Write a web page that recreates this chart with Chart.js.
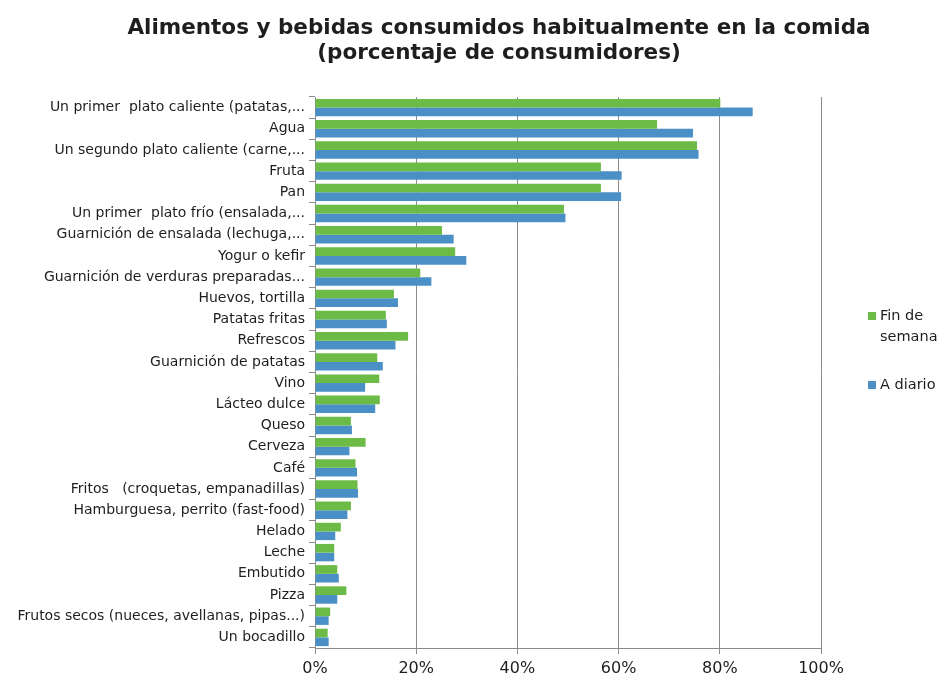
<!DOCTYPE html>
<html>
<head>
<meta charset="utf-8">
<script src="https://cdn.jsdelivr.net/npm/chart.js@4.4.1/dist/chart.umd.min.js"></script>
<style>
  html, body { margin: 0; padding: 0; background: #ffffff; }
  #wrap { width: 948px; height: 684px; }
</style>
</head>
<body>
<div id="wrap"><canvas id="chart" width="948" height="684"></canvas></div>
<script>
// Food and drink items, in the order they are listed
const categories = [
  "Un primer  plato caliente (patatas,...",
  "Agua",
  "Un segundo plato caliente (carne,...",
  "Fruta",
  "Pan",
  "Un primer  plato frío (ensalada,...",
  "Guarnición de ensalada (lechuga,...",
  "Yogur o kefir",
  "Guarnición de verduras preparadas...",
  "Huevos, tortilla",
  "Patatas fritas",
  "Refrescos",
  "Guarnición de patatas",
  "Vino",
  "Lácteo dulce",
  "Queso",
  "Cerveza",
  "Café",
  "Fritos   (croquetas, empanadillas)",
  "Hamburguesa, perrito (fast-food)",
  "Helado",
  "Leche",
  "Embutido",
  "Pizza",
  "Frutos secos (nueces, avellanas, pipas...)",
  "Un bocadillo"
];

// Share of consumers (%) at the weekend
const finDeSemana = [80.1, 67.6, 75.5, 56.5, 56.5, 49.2, 25.1, 27.7, 20.8, 15.6, 14.0, 18.4, 12.3,
                     12.7, 12.8, 7.1, 10.0, 8.0, 8.4, 7.1, 5.1, 3.8, 4.4, 6.2, 3.0, 2.5];

// Share of consumers (%) on weekdays
const aDiario = [86.5, 74.7, 75.8, 60.6, 60.5, 49.5, 27.4, 29.9, 23.0, 16.4, 14.2, 15.9, 13.4,
                 9.9, 11.9, 7.3, 6.8, 8.3, 8.5, 6.4, 4.0, 3.8, 4.7, 4.4, 2.7, 2.7];

// Value axis ticks
const xTicks = [0, 20, 40, 60, 80, 100];

const seriesNames = ["Fin de semana", "A diario"];
const titleLines = ["Alimentos y bebidas consumidos habitualmente en la comida",
                    "(porcentaje de consumidores)"];

const GREEN = "#6cbb46";
const BLUE = "#4a90c6";
const AXIS = "#8c8c8c";
const TEXT = "#1e1e1e";
const FONT = "'DejaVu Sans', sans-serif";

// Two-line heading centred above the chart
const heading = {
  id: "heading",
  afterDraw(chart) {
    const ctx = chart.ctx;
    ctx.save();
    ctx.font = "bold 21.5px " + FONT;
    ctx.fillStyle = TEXT;
    ctx.textAlign = "center";
    ctx.textBaseline = "middle";
    titleLines.forEach((t, i) => ctx.fillText(t, 499, 28 + i * 25));
    ctx.restore();
  }
};

// Legend drawn at the right, with wrapped labels
const sideLegend = {
  id: "sideLegend",
  afterDraw(chart) {
    const ctx = chart.ctx;
    const x0 = 868;
    const rows = [316, 385];
    ctx.save();
    ctx.font = "14.5px " + FONT;
    ctx.textBaseline = "middle";
    ctx.textAlign = "left";
    chart.data.datasets.forEach((ds, i) => {
      const y = rows[i];
      ctx.fillStyle = ds.backgroundColor;
      ctx.fillRect(x0, y - 4, 8, 8);
      ctx.fillStyle = TEXT;
      // simple word wrap
      const words = ds.label.split(" ");
      const lines = [];
      let cur = "";
      words.forEach(w => {
        const test = cur ? cur + " " + w : w;
        if (ctx.measureText(test).width > 70 && cur) { lines.push(cur); cur = w; }
        else cur = test;
      });
      if (cur) lines.push(cur);
      lines.forEach((ln, k) => ctx.fillText(ln, x0 + 12, y + k * 21));
    });
    ctx.restore();
  }
};

new Chart(document.getElementById("chart"), {
  type: "bar",
  data: {
    labels: categories,
    datasets: [
      { label: seriesNames[0], data: finDeSemana, backgroundColor: GREEN,
        categoryPercentage: 0.82, barPercentage: 1.0 },
      { label: seriesNames[1], data: aDiario, backgroundColor: BLUE,
        categoryPercentage: 0.82, barPercentage: 1.0 }
    ]
  },
  options: {
    indexAxis: "y",
    responsive: false,
    animation: false,
    layout: { padding: { left: 4, right: 127, top: 97, bottom: 0 } },
    plugins: {
      legend: { display: false },
      tooltip: { enabled: false },
      title: { display: false }
    },
    scales: {
      x: {
        min: 0,
        max: 100,
        afterBuildTicks(scale) { scale.ticks = xTicks.map(v => ({ value: v })); },
        afterFit(scale) { scale.height = 36; },
        grid: { color: AXIS, lineWidth: 1, drawTicks: true, tickLength: 6, tickColor: AXIS },
        border: { display: true, color: AXIS },
        ticks: {
          color: TEXT,
          padding: 5,
          font: { family: FONT, size: 16 },
          callback: v => v + "%"
        }
      },
      y: {
        afterFit(scale) { scale.width = 311; },
        grid: { drawOnChartArea: false, drawTicks: true, tickLength: 6, color: AXIS },
        border: { display: true, color: AXIS },
        ticks: {
          color: TEXT,
          padding: 4,
          autoSkip: false,
          font: { family: FONT, size: 14 }
        }
      }
    }
  },
  plugins: [heading, sideLegend]
});
</script>
</body>
</html>
